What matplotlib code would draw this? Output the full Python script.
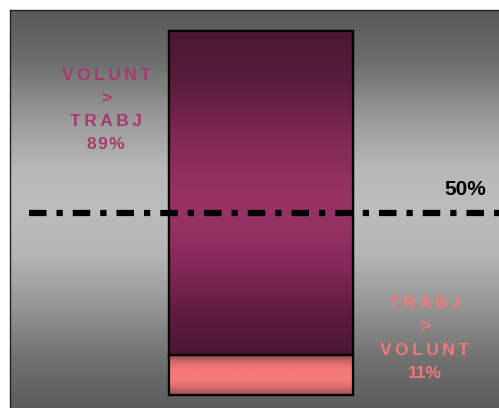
import numpy as np
import matplotlib
matplotlib.use("Agg")
import matplotlib.pyplot as plt
from matplotlib.colors import LinearSegmentedColormap

# ---- data ----
categories = [""]
trabj_gt_volunt = [11]      # bottom segment (%)
volunt_gt_trabj = [89]      # top segment (%)
reference_level = 50
ts = "\u2009"
left_label = [ts.join("VOLUNT"), ">", ts.join("TRABJ"), "\u200a".join("89%")]
right_label = [ts.join("TRABJ"), ">", ts.join("VOLUNT"), "11%"]
ref_label = "50%"

plt.rcParams['font.family'] = ['Liberation Sans', 'DejaVu Sans']

fig = plt.figure(figsize=(4.99, 4.08), dpi=100)
fig.patch.set_facecolor("white")
ax = fig.add_axes([10/499, 0, 489/499, 398/408])

# scales: bar from -0.5..0.5 -> px 169..353
px_per_x = 184.0
ax.set_xlim((10-169)/px_per_x - 0.5, (499-169)/px_per_x - 0.5)
ax.set_ylim((395-408)/3.64, (395-10)/3.64)
ax.set_xticks([]); ax.set_yticks([])
for s in ["right", "bottom"]:
    ax.spines[s].set_visible(False)
for s in ["top", "left"]:
    ax.spines[s].set_linewidth(1.0)
    ax.spines[s].set_color("#222222")

# background gradient (vertical, dark-light-dark)
bg = LinearSegmentedColormap.from_list("bg", [
    (0.00, "#595959"), (0.12, "#6c6c6c"), (0.28, "#9c9c9c"), (0.40, "#b8b8b8"),
    (0.50, "#bdbdbd"), (0.62, "#b4b4b4"), (0.75, "#949494"), (0.88, "#707070"),
    (1.00, "#5c5c5c")])
grad = np.linspace(0, 1, 256).reshape(-1, 1)
ax.imshow(grad, cmap=bg, aspect="auto", extent=(0, 1, 0, 1),
          transform=ax.transAxes, zorder=0, origin="upper")

x = np.arange(len(categories))
b1 = ax.bar(x, trabj_gt_volunt, width=1.0, color="#f47a7a",
            edgecolor="black", linewidth=1.6, zorder=2)
b2 = ax.bar(x, volunt_gt_trabj, bottom=trabj_gt_volunt, width=1.0,
            color="#8a2c5a", edgecolor="black", linewidth=1.6, zorder=2)

cm_top = LinearSegmentedColormap.from_list("top", [
    (0.0, "#4a1832"), (0.15, "#5a1c3c"), (0.35, "#842a58"), (0.5, "#983264"),
    (0.6, "#963163"), (0.72, "#86295a"), (0.88, "#5e1c3e"), (1.0, "#4a1834")])
cm_bot = LinearSegmentedColormap.from_list("bot", [
    (0.0, "#8a4444"), (0.22, "#dc6e6e"), (0.38, "#f47a7a"), (0.62, "#f47a7a"),
    (0.8, "#dc6e6e"), (1.0, "#984c4c")])

for bars, cm in ((b1, cm_bot), (b2, cm_top)):
    for r in bars:
        x0, y0 = r.get_x(), r.get_y()
        w, h = r.get_width(), r.get_height()
        im = ax.imshow(grad, cmap=cm, aspect="auto",
                       extent=(x0, x0 + w, y0, y0 + h), origin="upper", zorder=2.1)
        im.set_clip_path(r)
        ax.add_patch(plt.Rectangle((x0, y0), w, h, fill=False,
                                   edgecolor="black", linewidth=1.6, zorder=3))

# reference line
xl = ax.get_xlim()
ax.plot([(29.3-169)/px_per_x - 0.5, xl[1] + 0.3], [reference_level]*2, color="black",
        linewidth=4.5, dashes=(2.8, 1.6, 1.0, 1.6),
        dash_capstyle="butt", zorder=4)
ax.set_xlim(xl)
ax.text((465-169)/px_per_x - 0.5, (395-190)/3.64, ref_label, ha="center",
        va="center", fontsize=15, fontweight="bold", color="black", zorder=5)

# labels
def stack(lines, xc, yc_px, color):
    n = len(lines)
    step = 23.3
    for i, t in enumerate(lines):
        ypx = yc_px + (i - (n-1)/2) * step
        ax.text(xc, (395-ypx)/3.64, t, ha="center", va="center",
                fontsize=12.5, fontweight="bold", color=color, zorder=5)

stack(left_label, (106-169)/px_per_x - 0.5, 110, "#a63a6c")
stack(right_label, (425-169)/px_per_x - 0.5, 338.5, "#f47878")

fig.savefig("out.png", dpi=100)
